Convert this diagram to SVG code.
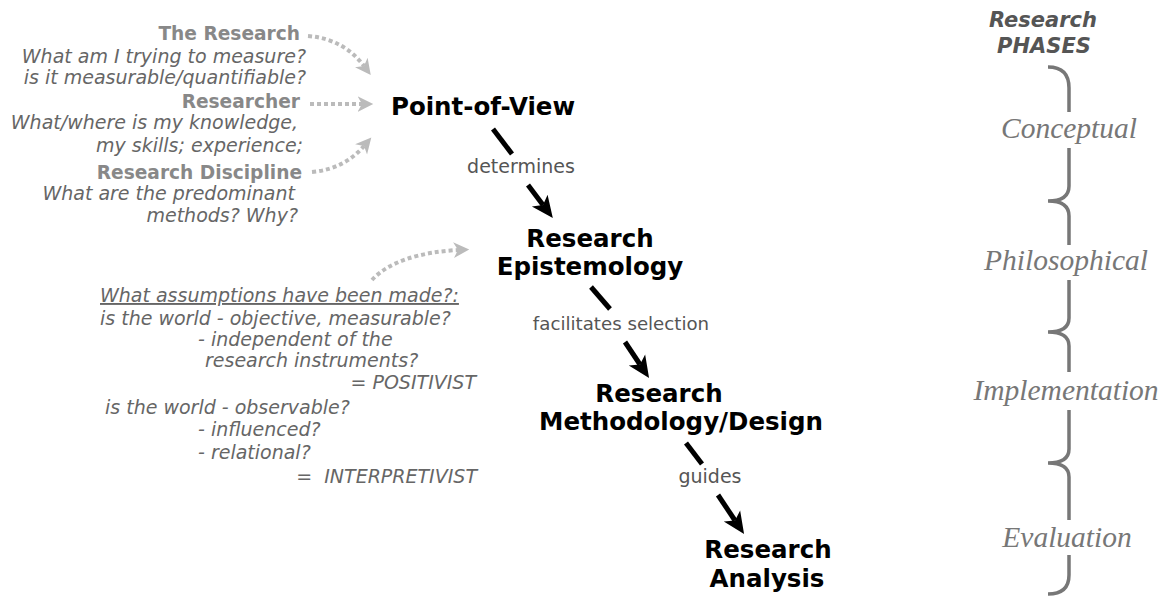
<svg xmlns="http://www.w3.org/2000/svg" width="1171" height="596" viewBox="0 0 1171 596">
  <style>
    .head { font-family: "DejaVu Sans", Verdana, sans-serif; font-weight: bold; font-size: 18.6px; fill: #888; }
    .note { font-family: "DejaVu Sans", Verdana, sans-serif; font-style: italic; font-size: 19px; fill: #666; }
    .title { font-family: "DejaVu Sans", Verdana, sans-serif; font-weight: bold; font-size: 24.5px; fill: #000; text-anchor: middle; }
    .label { font-family: "DejaVu Sans", Verdana, sans-serif; font-size: 19px; fill: #555; text-anchor: middle; }
    .phase { font-family: "Liberation Serif", "Times New Roman", serif; font-style: italic; font-size: 29.5px; fill: #777; text-anchor: middle; }
    .phasehead { font-family: "DejaVu Sans", Verdana, sans-serif; font-weight: bold; font-style: italic; font-size: 21px; fill: #555; text-anchor: middle; }
    .flow { stroke: #000; stroke-width: 5; fill: none; }
    .dots { stroke: #bbb; stroke-width: 4; stroke-dasharray: 4 3; fill: none; }
    .brace { stroke: #777; stroke-width: 3.5; fill: none; }
  </style>
  <defs>
    <marker id="blackHead" markerUnits="userSpaceOnUse" markerWidth="24" markerHeight="24" viewBox="0 -10 22 20" refX="5" refY="0" orient="auto">
      <path d="M0,-9 L20,0 L0,9 L5,0 Z" fill="#000"/>
    </marker>
    <marker id="greyHead" markerUnits="userSpaceOnUse" markerWidth="18" markerHeight="18" viewBox="0 -8 16 16" refX="4" refY="0" orient="auto">
      <path d="M0,-7 L14,0 L0,7 L4,0 Z" fill="#bbb"/>
    </marker>
  </defs>

  <!-- influences on the point of view -->
  <g id="influences">
    <text class="head" x="300" y="40" text-anchor="end">The Research</text>
    <text class="note" x="306" y="63" text-anchor="end">What am I trying to measure?</text>
    <text class="note" x="306" y="84" text-anchor="end">is it measurable/quantifiable?</text>
    <text class="head" x="300" y="108" text-anchor="end">Researcher</text>
    <text class="note" x="298" y="129" text-anchor="end">What/where is my knowledge,</text>
    <text class="note" x="303" y="152" text-anchor="end">my skills; experience;</text>
    <text class="head" x="302" y="179" text-anchor="end">Research Discipline</text>
    <text class="note" x="295" y="200" text-anchor="end">What are the predominant</text>
    <text class="note" x="298" y="222" text-anchor="end">methods? Why?</text>
  </g>

  <!-- assumptions feeding the epistemology -->
  <g id="assumptions">
    <text class="note" x="100" y="302" text-decoration="underline">What assumptions have been made?:</text>
    <text class="note" x="100" y="325">is the world - objective, measurable?</text>
    <text class="note" x="198" y="346">- independent of the</text>
    <text class="note" x="205" y="367">research instruments?</text>
    <text class="note" x="476" y="389" text-anchor="end">= POSITIVIST</text>
    <text class="note" x="105" y="414">is the world - observable?</text>
    <text class="note" x="198" y="436">- influenced?</text>
    <text class="note" x="198" y="459">- relational?</text>
    <text class="note" x="477" y="483" text-anchor="end" xml:space="preserve">=  INTERPRETIVIST</text>
  </g>

  <g id="point-of-view">
    <text class="title" x="483" y="115">Point-of-View</text>
  </g>
  <g id="epistemology">
    <text class="title" x="590" y="247">Research</text>
    <text class="title" x="590" y="275">Epistemology</text>
  </g>
  <g id="methodology">
    <text class="title" x="659" y="402">Research</text>
    <text class="title" x="681" y="430">Methodology/Design</text>
  </g>
  <g id="analysis">
    <text class="title" x="768" y="558">Research</text>
    <text class="title" x="767" y="587">Analysis</text>
  </g>

  <g id="connectors">
    <!-- dotted influence arrows -->
    <path class="dots" d="M308,36 C334,38 352,50 364,66" marker-end="url(#greyHead)"/>
    <path class="dots" d="M310,104 L362,104" marker-end="url(#greyHead)"/>
    <path class="dots" d="M312,172 C335,170 352,160 364,146" marker-end="url(#greyHead)"/>
    <path class="dots" d="M372,280 C388,262 420,252 458,250" marker-end="url(#greyHead)"/>

    <!-- main flow -->
    <line class="flow" x1="493" y1="129" x2="512" y2="154"/>
    <line class="flow" x1="528" y1="185" x2="543" y2="205" marker-end="url(#blackHead)"/>
    <text class="label" x="521" y="173">determines</text>

    <line class="flow" x1="591" y1="287" x2="610" y2="309"/>
    <line class="flow" x1="625" y1="342" x2="640" y2="364.5" marker-end="url(#blackHead)"/>
    <text class="label" x="621" y="330" style="font-size:18.2px">facilitates selection</text>

    <line class="flow" x1="686" y1="443" x2="702" y2="464"/>
    <line class="flow" x1="718" y1="495" x2="735" y2="520.5" marker-end="url(#blackHead)"/>
    <text class="label" x="710" y="483">guides</text>
  </g>

  <!-- phases column -->
  <g id="phases">
    <text class="phasehead" x="1043" y="27">Research</text>
    <text class="phasehead" x="1044" y="53">PHASES</text>
    <path class="brace" d="M1048,67 Q1069,67 1069,88 L1069,112"/>
    <path class="brace" d="M1069,148 L1069,186 Q1069,201 1048,201 Q1069,201 1069,216 L1069,245"/>
    <path class="brace" d="M1069,280 L1069,318 Q1069,332 1048,332 Q1069,332 1069,346 L1069,372"/>
    <path class="brace" d="M1069,410 L1069,449 Q1069,463 1048,463 Q1069,463 1069,477 L1069,520"/>
    <path class="brace" d="M1069,555 L1069,575 Q1069,594 1048,594"/>
    <text class="phase" x="1069" y="138">Conceptual</text>
    <text class="phase" x="1066" y="270">Philosophical</text>
    <text class="phase" x="1066" y="400">Implementation</text>
    <text class="phase" x="1067" y="547">Evaluation</text>
  </g>
</svg>
